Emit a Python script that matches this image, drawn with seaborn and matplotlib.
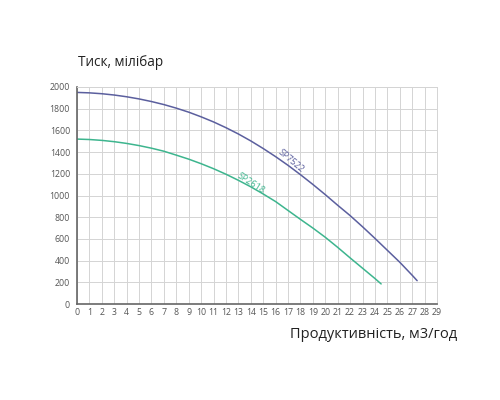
import numpy as np
import pandas as pd
import seaborn as sns
import matplotlib.pyplot as plt

# pump curves
q_big = [0, 1, 2, 3, 4, 5, 6, 7, 8, 9, 10, 11, 12, 13, 14, 15, 16, 17, 18, 19,
         20, 21, 22, 23, 24, 25, 26, 27, 27.4]
p_big = [1950, 1946, 1938, 1926, 1910, 1890, 1866, 1838, 1805, 1768, 1725, 1678,
         1625, 1567, 1503, 1433, 1358, 1278, 1192, 1102, 1008, 910, 815, 712, 605,
         495, 385, 265, 215]
q_small = [0, 1, 2, 3, 4, 5, 6, 7, 8, 9, 10, 11, 12, 13, 14, 15, 16, 17, 18, 19,
           20, 21, 22, 23, 24, 24.5]
p_small = [1520, 1516, 1508, 1496, 1480, 1460, 1436, 1408, 1372, 1335, 1293, 1247,
           1196, 1140, 1080, 1014, 944, 862, 780, 700, 615, 522, 425, 330, 235, 185]
names = ["SP7522", "SP2618"]
colors = ["#5b5f9e", "#3db58e"]

df = pd.concat([
    pd.DataFrame({"q": q_big, "p": p_big, "pump": names[0]}),
    pd.DataFrame({"q": q_small, "p": p_small, "pump": names[1]}),
])

sns.set_style("white")
plt.rcParams["font.family"] = ["Open Sans", "DejaVu Sans"]

fig = plt.figure(figsize=(5, 4), dpi=100)
ax = fig.add_axes([0.154, 0.24, 0.72, 0.5425])
sns.lineplot(data=df, x="q", y="p", hue="pump", palette=colors, legend=False,
             linewidth=1.1, ax=ax, sort=False)

ax.set_xlim(0, 29)
ax.set_ylim(0, 2000)
ax.set_xticks(np.arange(0, 30))
ax.set_yticks(np.arange(0, 2001, 200))
ax.set_yticks(np.arange(0, 2001, 50), minor=True)
ax.grid(True, which="major", color="#d4d4d4", linewidth=0.7)
ax.tick_params(axis="both", which="major", labelsize=6.3, colors="#555555", length=2, pad=3)
ax.tick_params(axis="y", which="minor", length=1.5, colors="#777777")
ax.tick_params(axis="x", length=0)
for s in ["top", "right"]:
    ax.spines[s].set_color("#d4d4d4")
    ax.spines[s].set_linewidth(0.7)
for s in ["left", "bottom"]:
    ax.spines[s].set_color("#666666")
    ax.spines[s].set_linewidth(1.2)
ax.set_xlabel("")
ax.set_ylabel("")

ax.text(17.2, 1320, names[0], rotation=-40, fontsize=6.5, color=colors[0],
        ha="center", va="center")
ax.text(14.0, 1110, names[1], rotation=-33, fontsize=6.5, color=colors[1],
        ha="center", va="center")

fig.text(0.156, 0.845, "Тиск, мілібар", fontsize=9.8, color="#222222", ha="left", va="center")
fig.text(0.58, 0.163, "Продуктивність, м3/год", fontsize=10.5, color="#222222", ha="left", va="center")

fig.savefig("out.png", dpi=100, facecolor="white")
